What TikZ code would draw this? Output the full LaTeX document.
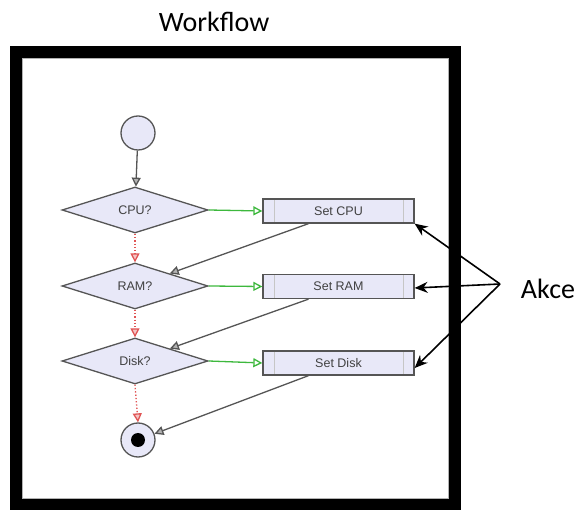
\documentclass[tikz,border=0pt]{standalone}
\usepackage{fontspec}
\setmainfont{Liberation Sans}
\newfontfamily\calibri{Carlito}
\usepackage{tikz}
\usetikzlibrary{positioning, arrows.meta, shapes.geometric}
\usepackage{xcolor}
\definecolor{lavender}{HTML}{E8E8F8}
\definecolor{edgegray}{HTML}{555555}
\definecolor{flowgreen}{HTML}{3DB83D}
\definecolor{flowred}{HTML}{E05555}
\definecolor{textgray}{HTML}{404040}
\tikzset{
    startdot/.style={circle, draw=edgegray, fill=lavender, line width=1.3pt, minimum size=34pt, inner sep=0pt},
    finaldot/.style={circle, draw=edgegray, fill=lavender, line width=1.3pt, minimum size=34pt, inner sep=0pt,
        path picture={\fill[black] (path picture bounding box.center) circle (7pt);}},
    decision/.style={diamond, draw=edgegray, fill=lavender, line width=1.3pt, minimum width=146pt,
        minimum height=46pt, inner sep=0pt, aspect=3.2, text=textgray, font=\fontsize{12.5}{14}\selectfont},
    action/.style={rectangle, draw=edgegray, fill=lavender, line width=1.3pt, minimum width=151pt,
        minimum height=24pt, inner sep=0pt, text=textgray, font=\fontsize{12.5}{14}\selectfont,
        path picture={\draw[gray!45, line width=0.8pt]
            ([xshift=11pt]path picture bounding box.south west) -- ([xshift=11pt]path picture bounding box.north west)
            ([xshift=-11pt]path picture bounding box.south east) -- ([xshift=-11pt]path picture bounding box.north east);}},
    backline/.style={draw=edgegray, line width=1.3pt, -{Triangle[length=9pt, width=9pt, fill=gray!60]}},
    yesline/.style={draw=flowgreen, line width=1.3pt, -{Triangle[length=9pt, width=9pt, fill=white]}},
    noline/.style={draw=flowred, line width=1.3pt, dotted, -{Triangle[length=9pt, width=9pt, fill=flowred!35]}},
    callout/.style={draw=black, line width=1.6pt, -{Stealth[length=13pt, width=11pt]}}
}
\begin{document}
\begin{tikzpicture}[x=1pt, y=-1pt]
  \useasboundingbox (0,0) rectangle (579,510);
  \node[font=\calibri\fontsize{28}{30}\selectfont] (title) at (214,22) {Workflow};
  \draw[line width=12pt] (16,52) rectangle (455,505);
  \draw[gray!60, line width=0.8pt] (22.4,58.4) rectangle (448.6,498.6);

  \node[startdot] (start) at (138,133) {};
  \node[decision] (cpu)  at (135,210) {CPU?};
  \node[decision] (ram)  at (135,286) {RAM?};
  \node[decision] (disk) at (135,361) {Disk?};
  \node[finaldot] (end)  at (138,440) {};

  \node[action] (setcpu)  at (338.5,211)   {Set CPU};
  \node[action] (setram)  at (338.5,286.5) {Set RAM};
  \node[action] (setdisk) at (338.5,363)   {Set Disk};

  \draw[backline] (start) -- (cpu);
  \draw[yesline] (cpu.east) -- (setcpu.west);
  \draw[yesline] (ram.east) -- (setram.west);
  \draw[yesline] (disk.east) -- (setdisk.west);
  \draw[noline] (cpu.south) -- (ram.north);
  \draw[noline] (ram.south) -- (disk.north);
  \draw[noline] (disk.south) -- (end.north);
  \draw[backline] ([xshift=-30pt]setcpu.south) -- (ram);
  \draw[backline] ([xshift=-30pt]setram.south) -- (disk);
  \draw[backline] ([xshift=-30pt]setdisk.south) -- (end);

  \node[font=\calibri\fontsize{28}{30}\selectfont] (akce) at (548,289) {Akce};
  \coordinate (fork) at (500,284);
  \draw[callout] (fork) -- (setcpu.south east);
  \draw[callout] (fork) -- ([yshift=-1.5pt]setram.east);
  \draw[callout] (fork) -- ([yshift=-5pt]setdisk.east);
\end{tikzpicture}
\end{document}
